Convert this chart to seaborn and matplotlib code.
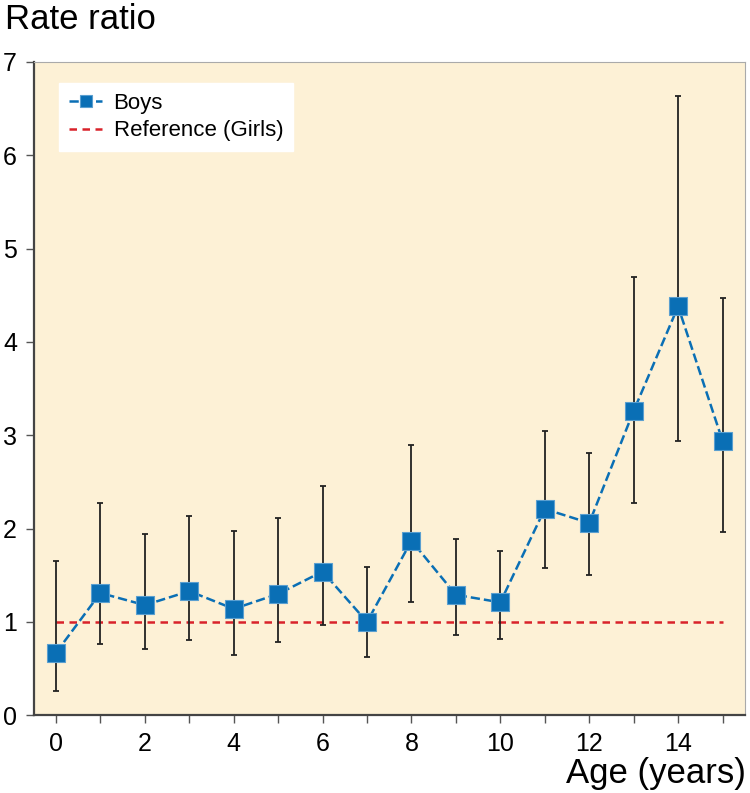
import numpy as np
import pandas as pd
import seaborn as sns
import matplotlib.pyplot as plt

# Rate ratio boys vs girls by age, with 95% CI
age = list(range(16))
rate_ratio = [0.67, 1.31, 1.18, 1.33, 1.14, 1.30, 1.54, 1.00, 1.87, 1.29, 1.21, 2.21, 2.06, 3.26, 4.38, 2.94]
ci_low = [0.26, 0.76, 0.71, 0.81, 0.65, 0.79, 0.97, 0.62, 1.21, 0.86, 0.82, 1.58, 1.50, 2.27, 2.94, 1.96]
ci_high = [1.65, 2.27, 1.94, 2.13, 1.97, 2.11, 2.46, 1.59, 2.90, 1.89, 1.76, 3.05, 2.81, 4.69, 6.63, 4.47]
reference = 1.0

df = pd.DataFrame({"age": age, "rr": rate_ratio, "lo": ci_low, "hi": ci_high})

sns.set_style("ticks")
plt.rcParams['font.family'] = ['Liberation Sans', 'DejaVu Sans']
plt.rcParams['text.color'] = 'black'

blue = "#0a6fb5"
red = "#d9222a"

fig = plt.figure(figsize=(7.5, 7.93), dpi=100)
ax = fig.add_axes([0.045, 0.098, 0.948, 0.824])
ax.set_facecolor("#fdf1d6")

ax.errorbar(df["age"], df["rr"],
            yerr=[df["rr"] - df["lo"], df["hi"] - df["rr"]],
            fmt="none", ecolor="#222222", elinewidth=1.3, capsize=2.5, capthick=1.3, zorder=2)
sns.lineplot(data=df, x="age", y="rr", ax=ax, color=blue, linestyle="--", linewidth=1.8,
             marker="s", markersize=12.5, markeredgecolor="#5a9fd0", markeredgewidth=0.8,
             label="Boys", zorder=3)
ax.plot([age[0], age[-1]], [reference, reference], color=red, linestyle="--", linewidth=1.8,
        dashes=(3, 2.2), label="Reference (Girls)", zorder=1)

ax.set_xlim(-0.5, 15.5)
ax.set_ylim(0, 7)
ax.set_xticks(range(16))
ax.set_xticklabels([str(a) if a % 2 == 0 else "" for a in age])
ax.set_yticks(range(8))
ax.tick_params(axis="both", direction="out", length=6, width=1, color="#555555",
               labelsize=18, labelcolor="black", pad=6)
ax.set_xlabel("")
ax.set_ylabel("")

for s in ["left", "bottom"]:
    ax.spines[s].set_color("#444444")
    ax.spines[s].set_linewidth(1.6)
for s in ["top", "right"]:
    ax.spines[s].set_visible(True)
    ax.spines[s].set_color("#aaaaaa")
    ax.spines[s].set_linewidth(0.8)

leg = ax.legend(loc="upper left", bbox_to_anchor=(0.02, 0.985), fontsize=16, frameon=True,
                fancybox=False, framealpha=1, edgecolor="white", handlelength=1.5,
                handletextpad=0.5, borderpad=0.45, labelspacing=0.3, markerscale=0.65)

fig.text(0.007, 0.975, "Rate ratio", fontsize=25, ha="left", va="center")
fig.text(0.995, 0.025, "Age (years)", fontsize=25, ha="right", va="center")

fig.savefig("out.png", dpi=100)
